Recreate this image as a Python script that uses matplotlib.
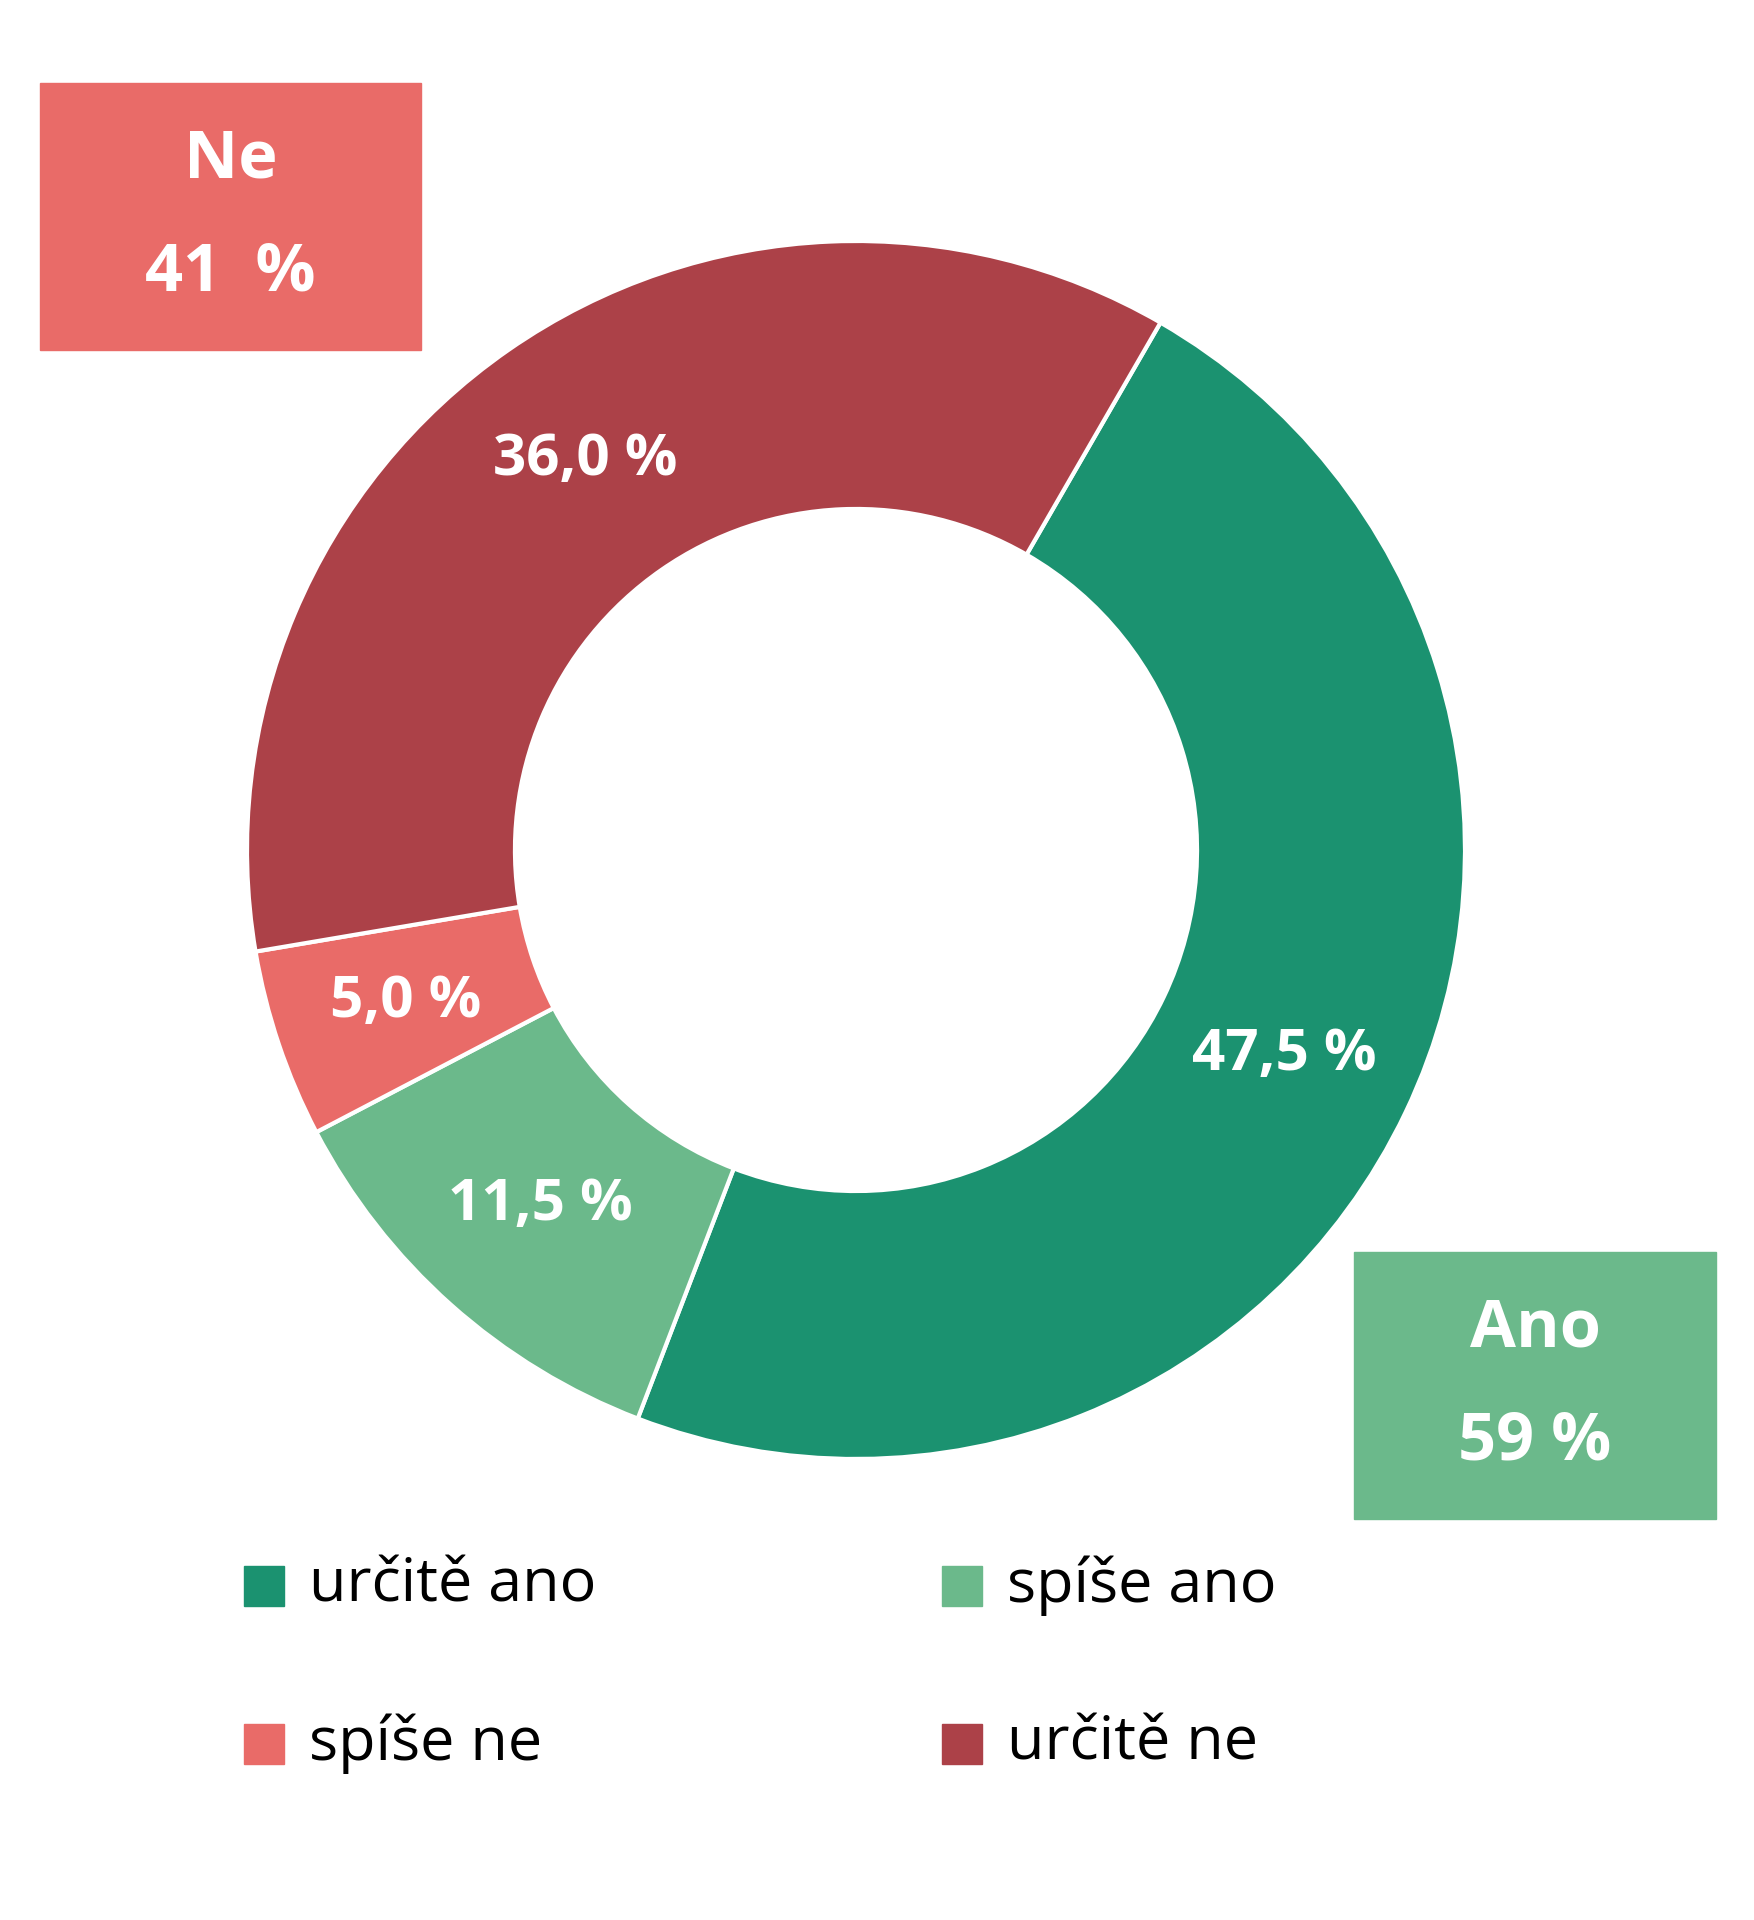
import matplotlib
matplotlib.use("Agg")
import matplotlib.pyplot as plt
from matplotlib.patches import Rectangle

categories = ["určitě ano", "spíše ano", "spíše ne", "určitě ne"]
values = [47.5, 11.5, 5.0, 36.0]
colors = ["#1B9270", "#6BB98B", "#E96B68", "#AC4148"]
legend_order = [0, 1, 2, 3]

plt.rcParams['font.family'] = ['Open Sans', 'DejaVu Sans']
W, H = 1754, 1920
fig = plt.figure(figsize=(W/100, H/100), dpi=100)

cx, cy, r = 856, 850, 609
ax = fig.add_axes([(cx-r)/W, 1-(cy+r)/H, 2*r/W, 2*r/H])
wedges, texts, autotexts = ax.pie(
    values, colors=colors, startangle=60, counterclock=False,
    wedgeprops=dict(width=0.44, edgecolor="white", linewidth=3),
    autopct=lambda p: f"{p:.1f}".replace(".", ",") + " %", pctdistance=0.78,
    textprops=dict(color="white", fontsize=42, fontweight="bold"))
ax.set_xlim(-1, 1); ax.set_ylim(-1, 1); ax.set_aspect("equal"); ax.axis("off")

no_total = values[2] + values[3]
yes_total = values[0] + values[1]

def box(x0, y0, x1, y1, color, line1, line2):
    fig.patches.append(Rectangle((x0/W, 1-y1/H), (x1-x0)/W, (y1-y0)/H,
                                 transform=fig.transFigure, color=color))
    xm = (x0+x1)/2/W
    fig.text(xm, 1-(y0+(y1-y0)*0.29)/H, line1, ha="center", va="center",
             color="white", fontsize=48, fontweight="bold")
    fig.text(xm, 1-(y0+(y1-y0)*0.71)/H, line2, ha="center", va="center",
             color="white", fontsize=48, fontweight="bold")

box(40, 83, 421, 350, "#E96B68", "Ne", f"{no_total:.0f}  %")
box(1354, 1252, 1716, 1519, "#6BB98B", "Ano", f"{yes_total:.0f} %")

pos = [(244, 1586), (942, 1586), (244, 1744), (942, 1744)]
for (x, y), i in zip(pos, legend_order):
    s = 40
    fig.patches.append(Rectangle((x/W, 1-(y+s/2)/H), s/W, s/H,
                                 transform=fig.transFigure, color=colors[i]))
    fig.text((x+65)/W, 1-y/H, categories[i], ha="left", va="center",
             fontsize=44, color="black")

fig.savefig("out.png", dpi=100, facecolor="white")
